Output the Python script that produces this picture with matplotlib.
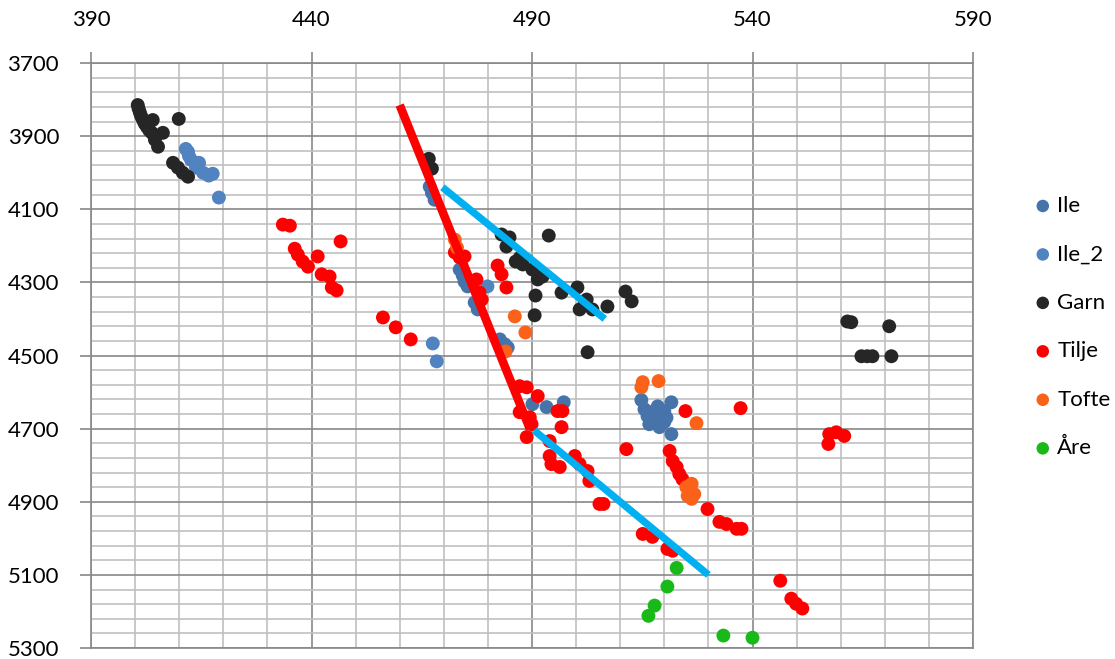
import matplotlib
matplotlib.use("Agg")
import matplotlib.pyplot as plt
import numpy as np

plt.rcParams['font.family'] = ['Lato', 'DejaVu Sans']

# data (x across top, depth down)
ile_x = [466.8, 467.3, 467.9, 473.6, 474.3, 474.7, 475.4, 477.0, 477.7, 482.7, 483.8, 484.5,
         490.1, 493.3, 497.2, 514.8, 516.2, 517.3, 518.5, 520.0, 521.6, 520.0, 518.9, 521.6,
         515.5, 516.6, 517.0, 519.0, 520.5, 518.0]
ile_y = [4038, 4055, 4074, 4265, 4281, 4298, 4311, 4355, 4374, 4456, 4469, 4478,
         4633, 4641, 4628, 4622, 4666, 4669, 4639, 4652, 4628, 4682, 4696, 4715,
         4647, 4688, 4655, 4665, 4670, 4680]

ile2_x = [411.5, 412.0, 412.2, 412.7, 414.5, 413.8, 415.4, 416.7, 417.6, 419.0,
          467.5, 468.4, 479.9]
ile2_y = [3935, 3943, 3954, 3965, 3973, 3986, 4000, 4008, 4003, 4068,
          4467, 4516, 4311]

garn_x = [400.6, 401.1, 401.8, 402.7, 403.8, 404.5, 405.2, 404.0, 406.3, 409.9,
          400.8, 401.4, 402.2, 403.2,
          408.6, 409.7, 410.8, 412.0,
          466.6, 467.3, 483.1, 484.9, 484.2, 486.3, 487.9, 490.1, 492.4, 493.8,
          490.8, 490.6, 496.7, 500.3, 502.4, 500.8, 503.7, 507.1, 511.2, 512.6,
          502.6, 487.2, 491.3, 501.9,
          561.5, 562.4, 564.7, 566.0, 567.2, 571.0, 571.5]
garn_y = [3815, 3836, 3856, 3875, 3891, 3910, 3929, 3856, 3891, 3853,
          3825, 3846, 3866, 3884,
          3973, 3986, 4000, 4011,
          3962, 3989, 4169, 4177, 4202, 4243, 4251, 4265, 4284, 4172,
          4336, 4390, 4328, 4314, 4347, 4374, 4374, 4366, 4325, 4352,
          4491, 4233, 4292, 4360,
          4407, 4409, 4502, 4502, 4502, 4420, 4502]

tilje_x = [433.5, 435.1, 436.2, 436.9, 438.0, 439.2, 441.4, 446.6, 442.3, 444.1, 444.6, 445.7,
           456.2, 459.1, 462.5,
           472.5, 473.6, 474.7, 477.4, 478.6, 478.1, 482.2, 483.1, 484.2,
           487.2, 488.8, 491.3, 487.2, 489.5, 489.9, 488.8, 495.8, 496.9, 496.7,
           494.0, 494.0, 494.4, 496.3, 499.7, 500.8, 502.6, 503.0, 505.3, 506.2,
           511.4, 524.8, 537.3, 521.2, 521.9, 522.8, 523.4, 524.1,
           529.8, 532.5, 534.1, 536.4, 537.5, 515.1, 517.3, 520.7, 521.9,
           557.4, 559.0, 560.8, 557.2,
           546.3, 548.8, 549.9, 551.3]
tilje_y = [4142, 4145, 4208, 4224, 4243, 4257, 4229, 4188, 4278, 4284, 4314, 4322,
           4396, 4423, 4456,
           4218, 4232, 4229, 4292, 4347, 4328, 4254, 4278, 4314,
           4584, 4587, 4611, 4655, 4669, 4688, 4723, 4652, 4652, 4696,
           4734, 4775, 4797, 4805, 4775, 4797, 4816, 4843, 4906, 4906,
           4756, 4652, 4644, 4761, 4789, 4805, 4824, 4838,
           4920, 4955, 4961, 4974, 4974, 4988, 4996, 5029, 5034,
           4715, 4710, 4720, 4742,
           5116, 5165, 5179, 5192]

tofte_x = [472.5, 473.0, 486.1, 488.5, 484.0, 515.1, 514.8, 518.7, 527.3,
           525.0, 526.2, 525.3, 526.8, 526.2]
tofte_y = [4183, 4205, 4393, 4437, 4489, 4573, 4587, 4570, 4685,
           4860, 4851, 4884, 4879, 4892]

are_x = [522.8, 520.7, 517.8, 516.4, 533.4, 540.0]
are_y = [5081, 5132, 5184, 5212, 5266, 5272]

# trend lines
red_line_x = [460.0, 489.5]
red_line_y = [3815, 4700]
blue_line1_x = [469.7, 506.5]
blue_line1_y = [4040, 4400]
blue_line2_x = [490.5, 530.0]
blue_line2_y = [4705, 5100]

fig = plt.figure(figsize=(11.15, 6.59), dpi=100)
ax = fig.add_axes([91/1115, 1 - 648/659, (973-91)/1115, (648-63)/659])

series = [
    ('Ile', ile_x, ile_y, '#4674AA'),
    ('Ile_2', ile2_x, ile2_y, '#5083C0'),
    ('Garn', garn_x, garn_y, '#262626'),
    ('Tilje', tilje_x, tilje_y, '#FF0000'),
    ('Tofte', tofte_x, tofte_y, '#FA6119'),
    ('Åre', are_x, are_y, '#19B919'),
]
for name, xs, ys, c in series:
    ax.scatter(xs, ys, s=100, color=c, edgecolors='none', label=name, zorder=3)

ax.plot(red_line_x, red_line_y, color='#FF0000', lw=6.2, solid_capstyle='butt', zorder=4)
ax.plot(blue_line1_x, blue_line1_y, color='#00B0F0', lw=5.2, solid_capstyle='butt', zorder=4)
ax.plot(blue_line2_x, blue_line2_y, color='#00B0F0', lw=5.2, solid_capstyle='butt', zorder=4)

ax.set_xlim(390, 590)
ax.set_ylim(5300, 3700)
ax.xaxis.tick_top()
ax.set_xticks(np.arange(390, 591, 50))
ax.set_xticks(np.arange(390, 591, 10), minor=True)
ax.set_yticks(np.arange(3700, 5301, 200))
ax.set_yticks(np.arange(3700, 5301, 40), minor=True)
ax.grid(which='minor', color='#C0C0C0', lw=1.2, zorder=0)
ax.grid(which='major', color='#888888', lw=1.2, zorder=0)
ax.set_axisbelow(True)
ax.tick_params(which='minor', length=0)
ax.tick_params(which='major', length=8, width=1.2, color='#888888', labelsize=16)
ax.tick_params(axis='x', pad=16)
ax.tick_params(axis='y', pad=15)
for sp in ax.spines.values():
    sp.set_color('#888888')
    sp.set_linewidth(1.2)

fig.legend(loc='center left', bbox_to_anchor=(1025/1115, 1 - 327/659), frameon=False,
           fontsize=16, handlelength=0.8, handletextpad=0.25, labelspacing=1.28,
           markerscale=0.9, borderaxespad=0)

fig.savefig('out.png', dpi=100)
